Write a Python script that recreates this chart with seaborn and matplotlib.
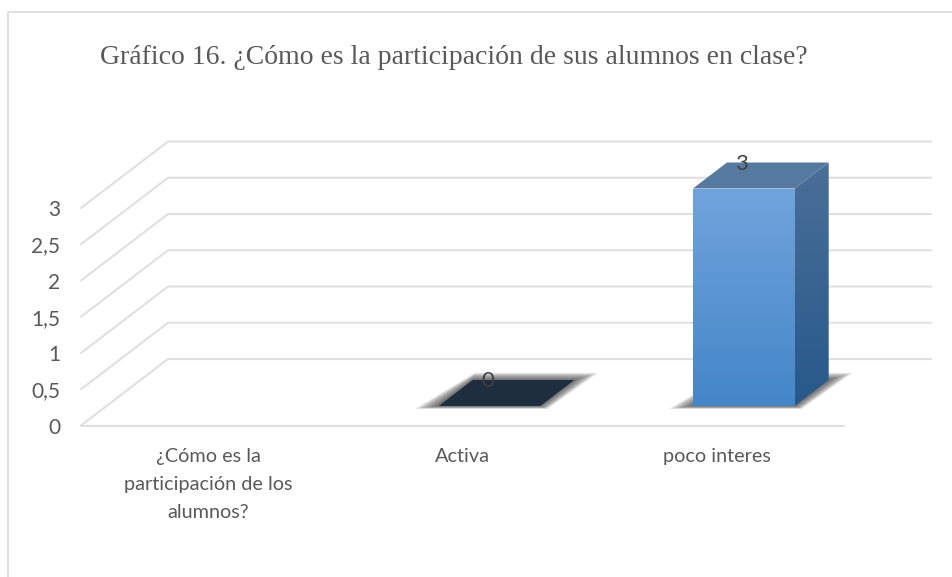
import numpy as np
import pandas as pd
import seaborn as sns
import matplotlib.pyplot as plt
from matplotlib.lines import Line2D
from matplotlib.patches import Polygon
from matplotlib.transforms import IdentityTransform

# Data
categories = ["¿Cómo es la\nparticipación de los\nalumnos?", "Activa", "poco interes"]
values = [np.nan, 0, 3]
y_ticks = [0, 0.5, 1, 1.5, 2, 2.5, 3]
y_tick_labels = ["0", "0,5", "1", "1,5", "2", "2,5", "3"]
title = "Gráfico 16. ¿Cómo es la participación de sus alumnos en clase?"

W, H = 953, 577
GRID = "#e0e0e0"
TEXT = "#595959"
WALL_DX, WALL_DY = 87, 66.5   # floor depth in pixels
BAR_DX, BAR_DY = 27, 19.5     # front of the bars, behind the axis line
BAR_DEPTH_X, BAR_DEPTH_Y = 34, 26

sns.set_theme(style="white")
plt.rcParams['font.family'] = ['Lato', 'DejaVu Sans']

fig = plt.figure(figsize=(W / 100, H / 100), dpi=100)
ax = fig.add_axes([81 / W, 1 - 425.5 / H, (844 - 81) / W, (425.5 - 208) / H])

df = pd.DataFrame({"categoria": categories, "valor": values})
sns.barplot(data=df, x="categoria", y="valor", order=categories, width=0.4,
            color="#5b9bd5", saturation=1, ax=ax, zorder=3)
ax.set_xlim(-0.5, 2.5)
ax.set_ylim(0, 3)
ax.set_xlabel("")
ax.set_ylabel("")
ax.set_yticks(y_ticks)
ax.set_yticklabels(y_tick_labels)
ax.tick_params(axis="y", length=0, pad=15, labelsize=15, labelcolor=TEXT)
ax.tick_params(axis="x", length=0, pad=16.5, labelsize=14.3, labelcolor=TEXT)
for label in ax.get_xticklabels():
    label.set_linespacing(1.78)
sns.despine(ax=ax, left=True, bottom=True, top=True, right=True)
fig.canvas.draw()


def gradient_face(points, top_color, bottom_color, zorder):
    """Fill a polygon given in pixels with a vertical gradient."""
    points = np.array(points)
    poly = Polygon(points, closed=True, transform=IdentityTransform(),
                   facecolor="none", edgecolor="none")
    ax.add_artist(poly)
    cmap = sns.blend_palette([top_color, bottom_color], as_cmap=True)
    im = ax.imshow(np.linspace(0, 1, 128).reshape(-1, 1), cmap=cmap, aspect="auto",
                   extent=(points[:, 0].min(), points[:, 0].max(),
                           points[:, 1].min(), points[:, 1].max()),
                   origin="upper", transform=IdentityTransform(), zorder=zorder)
    im.set_clip_path(poly)
    im.set_clip_box(fig.bbox)


def pixel_line(xs, ys, **kw):
    ax.add_artist(Line2D(xs, ys, transform=IdentityTransform(), clip_on=False, **kw))


# Floor edge, side wall diagonals and back wall lines
x_left = ax.transData.transform((-0.5, 0))[0]
x_right = ax.transData.transform((2.5, 0))[0]
for v in y_ticks:
    y_px = ax.transData.transform((0, v))[1]
    pixel_line([x_left, x_left + WALL_DX, x_right + WALL_DX],
               [y_px, y_px + WALL_DY, y_px + WALL_DY], color=GRID, lw=1.5, zorder=1)
y0_px = ax.transData.transform((0, 0))[1]
pixel_line([x_left, x_right], [y0_px, y0_px], color=GRID, lw=1.5, zorder=1)

# Bars: seaborn gives the positions and heights, the faces are drawn in pixels
for patch in list(ax.patches):
    h = patch.get_height()
    patch.set_visible(False)
    if np.isnan(h):
        continue
    (x0, y0) = ax.transData.transform((patch.get_x(), 0)) + (BAR_DX, BAR_DY)
    (x1, y1) = ax.transData.transform((patch.get_x() + patch.get_width(), h)) + (BAR_DX, BAR_DY)
    dx, dy = BAR_DEPTH_X, BAR_DEPTH_Y

    # soft shadow on the floor
    for e in range(24, 0, -2):
        ax.add_artist(Polygon([(x0 - e, y0 - 0.12 * e), (x1 + e * 0.3, y0 - 0.12 * e),
                               (x1 + dx + e, y0 + dy + 0.3 * e), (x0 + dx + e * 0.1, y0 + dy + 0.3 * e)],
                              transform=IdentityTransform(), facecolor="#3a3a3a", alpha=0.09,
                              edgecolor="none", clip_on=False, zorder=2))

    if h > 0:
        gradient_face([(x0, y1), (x1, y1), (x1, y0), (x0, y0)], "#70a4dd", "#4486c8", 4)
        gradient_face([(x1, y1), (x1 + dx, y1 + dy), (x1 + dx, y0 + dy), (x1, y0)],
                      "#4a6f98", "#27598a", 4)
        top_color = "#55799f"
    else:
        top_color = "#1f2e3f"
    ax.add_artist(Polygon([(x0, y1), (x1, y1), (x1 + dx, y1 + dy), (x0 + dx, y1 + dy)],
                          transform=IdentityTransform(), facecolor=top_color,
                          edgecolor="none", clip_on=False, zorder=4))
    ax.annotate(f"{h:g}", xy=((x0 + x1) / 2 - 2, y1 + 25), xycoords="figure pixels",
                ha="center", va="center", fontsize=16, color="#404040", zorder=6)

ax.set_xlim(-0.5, 2.5)
ax.set_ylim(0, 3)

# Title and chart frame
fig.text(454 / W, 1 - 57 / H, title, family="Liberation Serif", fontsize=20,
         color=TEXT, ha="center", va="center")
fig.add_artist(Line2D([8 / W, 8 / W, 1], [0, 1 - 11.5 / H, 1 - 11.5 / H], color=GRID, lw=1.5))

fig.savefig("out.png", dpi=100)
